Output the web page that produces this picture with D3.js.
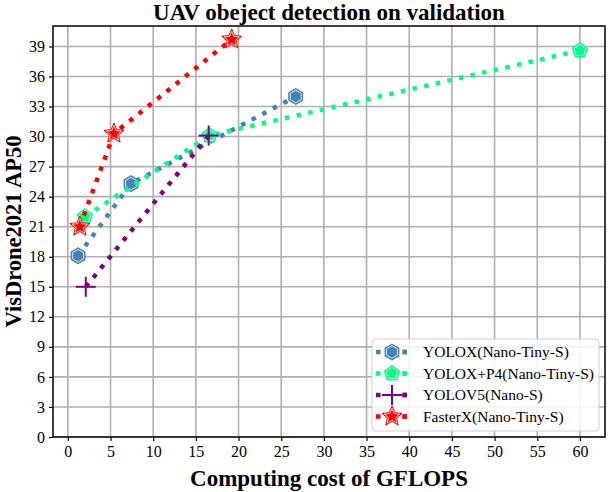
<!DOCTYPE html>
<html>
<head>
<meta charset="utf-8">
<script src="https://cdn.jsdelivr.net/npm/d3@7"></script>
<style>
  body { margin: 0; background: #fff; }
  text { font-family: "Liberation Serif", "DejaVu Serif", serif; }
</style>
</head>
<body>
<div id="chart"></div>
<script>
// data
const seriesNames = ["YOLOX(Nano-Tiny-S)", "YOLOX+P4(Nano-Tiny-S)", "YOLOV5(Nano-S)", "FasterX(Nano-Tiny-S)"];
const yoloxGflops = [1.2, 7.4, 26.7];
const yoloxAp = [18.1, 25.3, 34.0];
const p4Gflops = [2.0, 16.6, 60.0];
const p4Ap = [22.0, 30.1, 38.6];
const v5Gflops = [2.1, 16.5];
const v5Ap = [15.0, 30.1];
const fasterGflops = [1.4, 5.4, 19.2];
const fasterAp = [21.0, 30.3, 39.7];
const xTicks = d3.range(0, 61, 5);
const yTicks = d3.range(0, 40, 3);

const W = 608, H = 492;
const margin = { top: 26, right: 3, bottom: 55, left: 53 };
const width = W - margin.left - margin.right;
const height = H - margin.top - margin.bottom;

const svg = d3.select("#chart").append("svg")
    .attr("width", W).attr("height", H);
const g = svg.append("g")
    .attr("transform", "translate(" + margin.left + "," + margin.top + ")");

const x = d3.scaleLinear().domain([-1.74, 62.94]).range([0, width]);
const y = d3.scaleLinear().domain([0, 41.04]).range([height, 0]);

// grid
g.append("g").selectAll("line").data(xTicks).enter().append("line")
    .attr("x1", d => x(d)).attr("x2", d => x(d))
    .attr("y1", 0).attr("y2", height)
    .attr("stroke", "#b0b0b0").attr("stroke-width", 1.6);
g.append("g").selectAll("line").data(yTicks).enter().append("line")
    .attr("y1", d => y(d)).attr("y2", d => y(d))
    .attr("x1", 0).attr("x2", width)
    .attr("stroke", "#b0b0b0").attr("stroke-width", 1.6);

// axes
const xAxis = g.append("g")
    .attr("transform", "translate(0," + height + ")")
    .call(d3.axisBottom(x).tickValues(xTicks).tickSize(4).tickPadding(5));
const yAxis = g.append("g")
    .call(d3.axisLeft(y).tickValues(yTicks).tickSize(4).tickPadding(4));
[xAxis, yAxis].forEach(a => {
    a.select(".domain").remove();
    a.selectAll("line").attr("stroke", "#000").attr("stroke-width", 1.2);
    a.selectAll("text").attr("fill", "#000").style("font-size", "16px")
        .style("font-family", "Liberation Serif");
});

// frame
g.append("rect").attr("width", width).attr("height", height)
    .attr("fill", "none").attr("stroke", "#111").attr("stroke-width", 1.6);

// marker shapes
function polygon(n, r, inner) {
    const pts = [];
    const k = inner ? n * 2 : n;
    for (let i = 0; i < k; i++) {
        const a = -Math.PI / 2 + i * 2 * Math.PI / k;
        const rr = inner && i % 2 ? r * inner : r;
        pts.push([rr * Math.cos(a), rr * Math.sin(a)]);
    }
    return "M" + pts.map(p => p[0].toFixed(2) + "," + p[1].toFixed(2)).join("L") + "Z";
}

function drawMarker(sel, type, color) {
    if (type === "plus") {
        sel.append("line").attr("x1", -10).attr("x2", 10)
            .attr("stroke", color).attr("stroke-width", 2);
        sel.append("line").attr("y1", -10).attr("y2", 10)
            .attr("stroke", color).attr("stroke-width", 2);
        return;
    }
    let outer, ring;
    if (type === "hex") { outer = polygon(6, 8); ring = polygon(6, 6.3); }
    if (type === "pent") { outer = polygon(5, 8); ring = polygon(5, 6.2); }
    if (type === "star") { outer = polygon(5, 10.5, 0.45); ring = polygon(5, 8.2, 0.45); }
    sel.append("path").attr("d", outer)
        .attr("fill", color).attr("stroke", color).attr("stroke-width", 1);
    sel.append("path").attr("d", ring)
        .attr("fill", "none").attr("stroke", "#fff").attr("stroke-width", 0.8);
}

const series = [
    { name: seriesNames[0], xs: yoloxGflops, ys: yoloxAp, color: "#4682b4", marker: "hex" },
    { name: seriesNames[1], xs: p4Gflops, ys: p4Ap, color: "#00ff7f", marker: "pent" },
    { name: seriesNames[2], xs: v5Gflops, ys: v5Ap, color: "#800080", marker: "plus" },
    { name: seriesNames[3], xs: fasterGflops, ys: fasterAp, color: "#ff0000", marker: "star" }
];

const line = d3.line().x(d => x(d[0])).y(d => y(d[1]));

series.forEach(s => {
    const pts = s.xs.map((v, i) => [v, s.ys[i]]);
    g.append("path")
        .datum(pts)
        .attr("fill", "none")
        .attr("stroke", s.color)
        .attr("stroke-width", 4.5)
        .attr("stroke-dasharray", "4.5,7.4")
        .attr("d", line);
    pts.forEach(p => {
        const m = g.append("g").attr("transform", "translate(" + x(p[0]) + "," + y(p[1]) + ")");
        drawMarker(m, s.marker, s.color);
    });
});

// legend
const lg = g.append("g").attr("transform", "translate(" + (372 - margin.left) + "," + (339 - margin.top) + ")");
lg.append("rect").attr("width", 227).attr("height", 92).attr("rx", 4)
    .attr("fill", "#fff").attr("fill-opacity", 0.85)
    .attr("stroke", "#d0d0d0").attr("stroke-width", 1);
series.forEach((s, i) => {
    const row = lg.append("g").attr("transform", "translate(0," + (13 + i * 21.5) + ")");
    row.append("line").attr("x1", 4).attr("x2", 35)
        .attr("stroke", s.color).attr("stroke-width", 4.5)
        .attr("stroke-dasharray", "4.5,22");
    row.append("line").attr("x1", 35).attr("x2", 30.5)
        .attr("stroke", s.color).attr("stroke-width", 4.5);
    const m = row.append("g").attr("transform", "translate(20,0)");
    drawMarker(m, s.marker, s.color);
    row.append("text").attr("x", 51).attr("y", 0).attr("dy", "0.35em")
        .style("font-size", "15.5px").text(s.name);
});

// titles
svg.append("text")
    .attr("x", margin.left + width / 2).attr("y", 20)
    .attr("text-anchor", "middle")
    .style("font-size", "23px").style("font-weight", "bold")
    .text("UAV obeject detection on validation");
svg.append("text")
    .attr("x", margin.left + width / 2).attr("y", 486)
    .attr("text-anchor", "middle")
    .style("font-size", "23px").style("font-weight", "bold")
    .text("Computing cost of GFLOPS");
svg.append("text")
    .attr("transform", "translate(20.5," + (margin.top + height / 2) + ") rotate(-90)")
    .attr("text-anchor", "middle")
    .style("font-size", "22.5px").style("font-weight", "bold")
    .text("VisDrone2021 AP50");
</script>
</body>
</html>
